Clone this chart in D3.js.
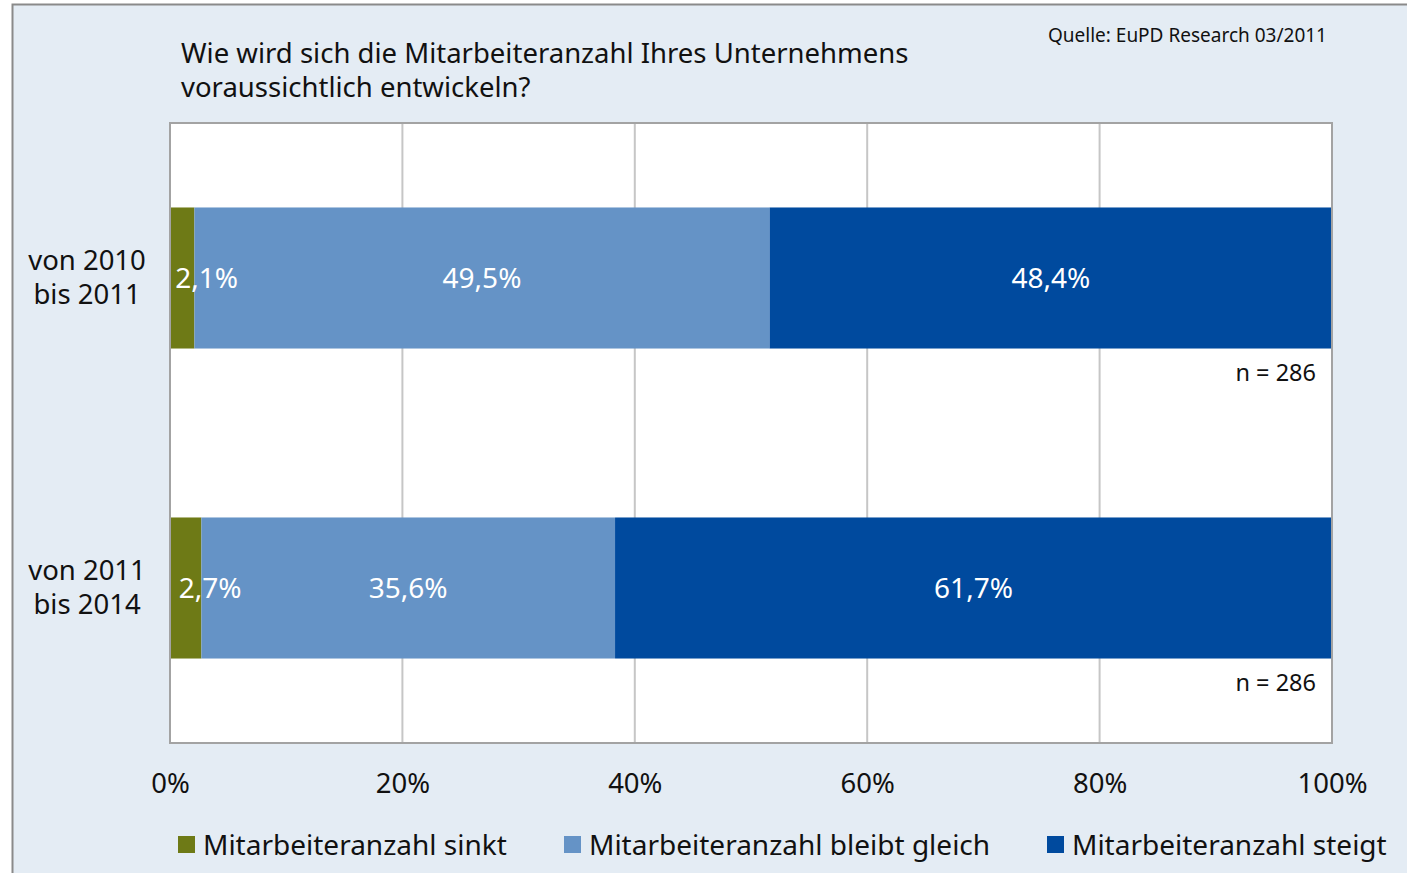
<!DOCTYPE html>
<html>
<head>
<meta charset="utf-8">
<script src="https://cdn.jsdelivr.net/npm/d3@7"></script>
<style>
  body { margin: 0; background: #fff; }
  svg text { font-family: "Noto Sans", "Open Sans", sans-serif; }
  .axis path, .axis line { display: none; }
</style>
</head>
<body>
<div id="chart"></div>
<script>
// data
var categories = [["von 2010", "bis 2011"], ["von 2011", "bis 2014"]];
var seriesNames = ["Mitarbeiteranzahl sinkt", "Mitarbeiteranzahl bleibt gleich", "Mitarbeiteranzahl steigt"];
var sinkt = [2.1, 2.7];
var bleibt = [49.5, 35.6];
var steigt = [48.4, 61.7];
var sampleSizes = [286, 286];
var tickValues = [0, 20, 40, 60, 80, 100];
var colors = ["#6e7a16", "#6593c6", "#004a9e"];

var W = 1407, H = 873;
var margin = {top: 123, right: 75, bottom: 130, left: 170};

var svg = d3.select("#chart").append("svg")
  .attr("width", W)
  .attr("height", H);

// panel background
svg.append("rect")
  .attr("x", 13).attr("y", 5)
  .attr("width", W - 13).attr("height", H - 5)
  .attr("fill", "#e4ecf4");
svg.append("path")
  .attr("d", "M12.5," + H + "V4.5H" + W)
  .attr("fill", "none")
  .attr("stroke", "#8a8a8a")
  .attr("stroke-width", 2);

var x = d3.scaleLinear()
  .domain([0, 100])
  .range([margin.left, W - margin.right]);

var y = d3.scaleBand()
  .domain(d3.range(categories.length))
  .range([margin.top, H - margin.bottom])
  .paddingInner(0.545)
  .paddingOuter(0.2725);

// plot area
svg.append("rect")
  .attr("x", x(0)).attr("y", margin.top)
  .attr("width", x(100) - x(0)).attr("height", H - margin.bottom - margin.top)
  .attr("fill", "#fff");

// gridlines
svg.selectAll(".grid")
  .data(tickValues.slice(1, -1))
  .enter().append("line")
  .attr("class", "grid")
  .attr("x1", function(d) { return x(d); })
  .attr("x2", function(d) { return x(d); })
  .attr("y1", margin.top)
  .attr("y2", H - margin.bottom)
  .attr("stroke", "#c6c6c6")
  .attr("stroke-width", 2);

// stacked bars
var rows = categories.map(function(c, i) {
  return {sinkt: sinkt[i], bleibt: bleibt[i], steigt: steigt[i], idx: i};
});
var stack = d3.stack().keys(["sinkt", "bleibt", "steigt"]);
var layers = stack(rows);

svg.selectAll(".layer")
  .data(layers)
  .enter().append("g")
  .attr("class", "layer")
  .attr("fill", function(d, i) { return colors[i]; })
  .selectAll("rect")
  .data(function(d) { return d; })
  .enter().append("rect")
  .attr("x", function(d) { return x(d[0]); })
  .attr("y", function(d) { return y(d.data.idx); })
  .attr("width", function(d) { return x(d[1]) - x(d[0]); })
  .attr("height", y.bandwidth());

// value labels (drawn on top of all bars)
var labels = [];
layers.forEach(function(l) {
  l.forEach(function(p) { labels.push({key: l.key, x0: p[0], x1: p[1], row: p.data}); });
});

svg.selectAll(".val")
  .data(labels)
  .enter().append("text")
  .attr("class", "val")
  .attr("x", function(d) {
    var c = (x(d.x0) + x(d.x1)) / 2;
    return d.key === "sinkt" ? c - 7 : c;
  })
  .attr("y", function(d) { return y(d.row.idx) + y.bandwidth() / 2; })
  .attr("dy", "0.35em")
  .attr("text-anchor", function(d) { return d.key === "sinkt" ? "start" : "middle"; })
  .attr("fill", "#fff")
  .style("font-size", "28px")
  .text(function(d) { return String(d.row[d.key]).replace(".", ",") + "%"; });

// plot border
svg.append("rect")
  .attr("x", x(0)).attr("y", margin.top)
  .attr("width", x(100) - x(0)).attr("height", H - margin.bottom - margin.top)
  .attr("fill", "none")
  .attr("stroke", "#a3a3a3")
  .attr("stroke-width", 2);

// category labels
svg.selectAll(".cat")
  .data(categories)
  .enter().append("text")
  .attr("class", "cat")
  .attr("text-anchor", "middle")
  .attr("y", function(d, i) { return y(i) + y.bandwidth() / 2 - 8; })
  .style("font-size", "27.5px")
  .attr("fill", "#111")
  .selectAll("tspan")
  .data(function(d) { return d; })
  .enter().append("tspan")
  .attr("x", 87)
  .attr("dy", function(d, i) { return i === 0 ? 0 : 34; })
  .text(function(d) { return d; });

// n labels
svg.selectAll(".n")
  .data(sampleSizes)
  .enter().append("text")
  .attr("class", "n")
  .attr("x", x(100) - 16)
  .attr("y", function(d, i) { return y(i) + y.bandwidth() + 32; })
  .attr("text-anchor", "end")
  .style("font-size", "23.5px")
  .attr("fill", "#111")
  .text(function(d) { return "n = " + d; });

// x axis
svg.append("g")
  .attr("class", "axis")
  .attr("transform", "translate(0," + (H - margin.bottom) + ")")
  .call(d3.axisBottom(x).tickValues(tickValues).tickSize(0).tickPadding(30)
    .tickFormat(function(d) { return d + "%"; }))
  .selectAll("text")
  .style("font-size", "27.5px")
  .style("font-family", "'Noto Sans', sans-serif")
  .attr("fill", "#111");

// title + source
var title = svg.append("text")
  .attr("x", 181).attr("y", 63)
  .style("font-size", "27.5px")
  .attr("fill", "#111");
title.append("tspan").attr("x", 181).text("Wie wird sich die Mitarbeiteranzahl Ihres Unternehmens");
title.append("tspan").attr("x", 181).attr("dy", 34).text("voraussichtlich entwickeln?");

svg.append("text")
  .attr("x", 1327).attr("y", 42)
  .attr("text-anchor", "end")
  .style("font-size", "19px")
  .attr("fill", "#111")
  .text("Quelle: EuPD Research 03/2011");

// legend
var legendX = [178, 564, 1047];
var legend = svg.selectAll(".legend")
  .data(seriesNames)
  .enter().append("g")
  .attr("class", "legend")
  .attr("transform", function(d, i) { return "translate(" + legendX[i] + ",836)"; });
legend.append("rect")
  .attr("width", 17).attr("height", 17)
  .attr("fill", function(d, i) { return colors[i]; });
legend.append("text")
  .attr("x", 25).attr("y", 9)
  .attr("dy", "0.35em")
  .style("font-size", "28px")
  .attr("fill", "#111")
  .text(function(d) { return d; });
</script>
</body>
</html>
